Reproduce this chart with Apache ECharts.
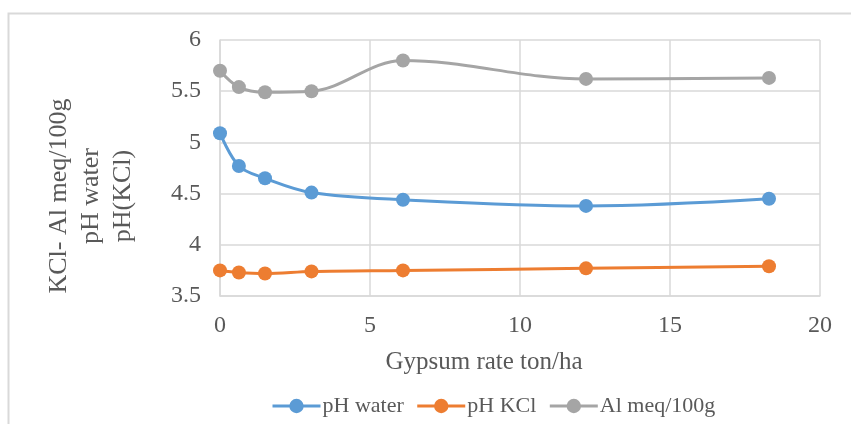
<!DOCTYPE html>
<html><head><meta charset="utf-8">
<script src="https://cdn.jsdelivr.net/npm/echarts@6/dist/echarts.min.js"></script>
<style>html,body{margin:0;padding:0;background:#fff}#c{width:851px;height:424px}</style>
</head><body><div id="c"></div>
<script>
const rates = [0, 0.63, 1.5, 3.05, 6.1, 12.2, 18.3];
const phWater = [5.09, 4.77, 4.65, 4.51, 4.44, 4.38, 4.45];
const phKCl = [3.75, 3.73, 3.72, 3.74, 3.75, 3.77, 3.79];
const alMeq = [5.7, 5.54, 5.49, 5.5, 5.8, 5.62, 5.63];
const seriesNames = ['pH water', 'pH KCl', 'Al meq/100g'];
const colors = ['#5B9BD5', '#ED7D31', '#A5A5A5'];
const xTitle = 'Gypsum rate ton/ha';
const yTitle = 'KCl- Al meq/100g\npH water\npH(KCl)';

const font = '"Liberation Serif", "Times New Roman", serif';
const txt = '#595959';
const pair = arr => rates.map((x, i) => [x, arr[i]]);
const mk = (name, arr, color) => ({
  name, type: 'line', data: pair(arr), smooth: 0.35,
  symbol: 'circle', symbolSize: 14,
  lineStyle: { color, width: 3 }, itemStyle: { color },
  emphasis: { disabled: true }
});
const chart = echarts.init(document.getElementById('c'), null, { renderer: 'canvas' });
chart.setOption({
  animation: false,
  color: colors,
  textStyle: { fontFamily: font },
  grid: { left: 220, right: 31, top: 40, bottom: 128 },
  xAxis: {
    type: 'value', min: 0, max: 20, interval: 5,
    axisLine: { lineStyle: { color: '#d9d9d9', width: 1.5 } },
    axisTick: { show: false },
    splitLine: { show: true, lineStyle: { color: '#d9d9d9', width: 1.5 } },
    axisLabel: { color: txt, fontSize: 24, fontFamily: font, margin: 18 }
  },
  yAxis: {
    type: 'value', min: 3.5, max: 6, interval: 0.5,
    axisLine: { show: true, lineStyle: { color: '#d9d9d9', width: 1.5 } },
    axisTick: { show: false },
    splitLine: { lineStyle: { color: '#d9d9d9', width: 1.5 } },
    axisLabel: { color: txt, fontSize: 24, fontFamily: font, margin: 19 }
  },
  legend: {
    left: 266, top: 390, itemWidth: 48, itemHeight: 18, itemGap: 12,
    lineStyle: { width: 3 },
    textStyle: { color: txt, fontSize: 22, fontFamily: font, padding: [0, 0, 0, -3] },
    data: seriesNames
  },
  graphic: [
    { type: 'rect', shape: { x: 8.5, y: 13.5, width: 900, height: 500 },
      style: { fill: null, stroke: '#d9d9d9', lineWidth: 2 }, silent: true },
    { type: 'text', x: 484, y: 362,
      style: { text: xTitle, fill: txt, font: '25px ' + font, align: 'center', verticalAlign: 'middle' } },
    { type: 'text', x: 91, y: 196, rotation: Math.PI / 2,
      style: { text: yTitle, fill: txt, font: '26px ' + font, align: 'center', verticalAlign: 'middle', lineHeight: 32 } }
  ],
  series: [
    mk(seriesNames[0], phWater, colors[0]),
    mk(seriesNames[1], phKCl, colors[1]),
    mk(seriesNames[2], alMeq, colors[2])
  ]
});
</script></body></html>
